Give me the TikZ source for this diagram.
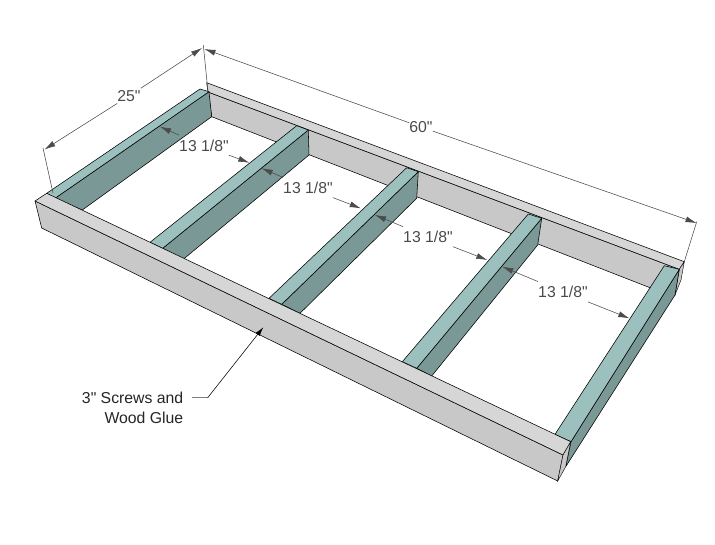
\documentclass[tikz,border=0pt]{standalone}
\usepackage{fontspec}
\setmainfont[Ligatures=TeXOff]{Liberation Sans}
\usetikzlibrary{arrows.meta}
\definecolor{joisttop}{RGB}{155,192,190}
\definecolor{joistside}{RGB}{122,152,150}
\definecolor{boardtop}{RGB}{214,214,214}
\definecolor{boardside}{RGB}{200,200,200}
\definecolor{dimgrey}{RGB}{75,75,75}
\tikzset{
    topjoist/.style={draw=black,fill=joisttop,line width=0.55pt,line join=round},
    sidejoist/.style={draw=black,fill=joistside,line width=0.55pt,line join=round},
    topboard/.style={draw=black,fill=boardtop,line width=0.55pt,line join=round},
    sideboard/.style={draw=black,fill=boardside,line width=0.55pt,line join=round},
    dimline/.style={draw=dimgrey,line width=0.55pt},
    dimarrow/.style={dimline,-{Latex[length=11pt,width=6pt]}},
    dimlabel/.style={text=dimgrey,font=\fontsize{15.8}{18}\selectfont,inner xsep=0pt,minimum height=22pt},
}
\begin{document}
\begin{tikzpicture}[x=1pt,y=-1pt]
\useasboundingbox[fill=white] (0,0) rectangle (715,544);

% Back board
\filldraw[sideboard] (208,92) -- (679.3,269.3) -- (675,295) -- (650,287.7) -- (211.7,116.7) -- cycle;
\filldraw[topboard] (206.7,82.7) -- (684.3,261.7) -- (679.3,269.3) -- (208,92) -- cycle;
\filldraw[boardside,draw=black,line width=0.4pt] (684.3,261.7) -- (681,280) -- (675,295) -- (679.3,269.3) -- cycle;

% Joists, left to right
\filldraw[sidejoist] (55,198.3) -- (209,91.7) -- (211.7,116.7) -- (82.3,210) -- cycle;
\filldraw[topjoist] (46.7,193.3) -- (55,198.3) -- (209,91.7) -- (200,89) -- cycle;

\filldraw[sidejoist] (162.7,248.3) -- (308.3,130) -- (309,155) -- (183.3,259.3) -- cycle;
\filldraw[topjoist] (150,242.3) -- (162.7,248.3) -- (308.3,130) -- (296.7,125.7) -- cycle;

\filldraw[sidejoist] (281.7,304.3) -- (418.3,171.7) -- (416.7,198.3) -- (300,313.3) -- cycle;
\filldraw[topjoist] (269,298.3) -- (281.7,304.3) -- (418.3,171.7) -- (406.7,167.7) -- cycle;

\filldraw[sidejoist] (416.7,368.3) -- (541.7,218.3) -- (537.7,245) -- (431.7,376) -- cycle;
\filldraw[topjoist] (402.3,361.7) -- (416.7,368.3) -- (541.7,218.3) -- (528.3,214) -- cycle;

\filldraw[sidejoist] (571,441.7) -- (679.3,269.3) -- (675,295) -- (565.7,466.7) -- cycle;
\filldraw[topjoist] (555,434.3) -- (571,441.7) -- (679.3,269.3) -- (664.3,265.7) -- cycle;

% Front board
\filldraw[sideboard] (35,201) -- (563,455) -- (557.7,481) -- (41.7,228) -- cycle;
\filldraw[topboard] (35,201) -- (46.7,193.3) -- (570.7,441.7) -- (563,455) -- cycle;
\filldraw[boardside,draw=black,line width=0.4pt] (563,455) -- (570.7,441.7) -- (565.7,466.7) -- (557.7,481) -- cycle;

% Overall sizes
\node[dimlabel] (width) at (129,96) {25"};
\node[dimlabel] (length) at (421,127) {60"};
\coordinate (widthA) at (44.5,149.5);
\coordinate (widthB) at (202,48);
\coordinate (lengthA) at (204.5,49);
\coordinate (lengthB) at (696.5,223);
\draw[dimarrow] (width) -- (widthA);
\draw[dimarrow] (width) -- (widthB);
\draw[dimarrow] (length) -- (lengthA);
\draw[dimarrow] (length) -- (lengthB);
\draw[dimline] (43,148) -- (53,193);
\draw[dimline] (203.3,45) -- (208,92);
\draw[dimline] (696.7,221.7) -- (684.3,261.7);

% Spacing between joists
\node[dimlabel] (gapone) at (204,146) {13 1/8"};
\node[dimlabel] (gaptwo) at (308,188) {13 1/8"};
\node[dimlabel] (gapthree) at (428,237) {13 1/8"};
\node[dimlabel] (gapfour) at (563,292) {13 1/8"};
\coordinate (gaponeA) at (160,126.7);
\coordinate (gaponeB) at (249.3,162.7);
\coordinate (gaptwoA) at (261.7,168.3);
\coordinate (gaptwoB) at (360.7,208.3);
\coordinate (gapthreeA) at (375,215);
\coordinate (gapthreeB) at (487.3,260);
\coordinate (gapfourA) at (502.3,266.7);
\coordinate (gapfourB) at (629.3,318.3);
\foreach \gap in {gapone,gaptwo,gapthree,gapfour}{
    \draw[dimarrow] (\gap) -- (\gap A);
    \draw[dimarrow] (\gap) -- (\gap B);
}

% Note on the front board
\node[align=right,anchor=north east,inner sep=0pt,text=black!85,font=\fontsize{15.8}{20}\selectfont] (screws) at (183.5,391.5) {3" Screws and\\Wood Glue};
\coordinate (leadstart) at (192.3,397.7);
\coordinate (elbow) at (207.7,397.7);
\coordinate (leadtip) at (263.3,327.3);
\draw[draw=gray,line width=1pt] (leadstart) -- (elbow);
\draw[-{Latex[length=9pt,width=5pt]},line width=0.55pt] (elbow) -- (leadtip);
\end{tikzpicture}
\end{document}
